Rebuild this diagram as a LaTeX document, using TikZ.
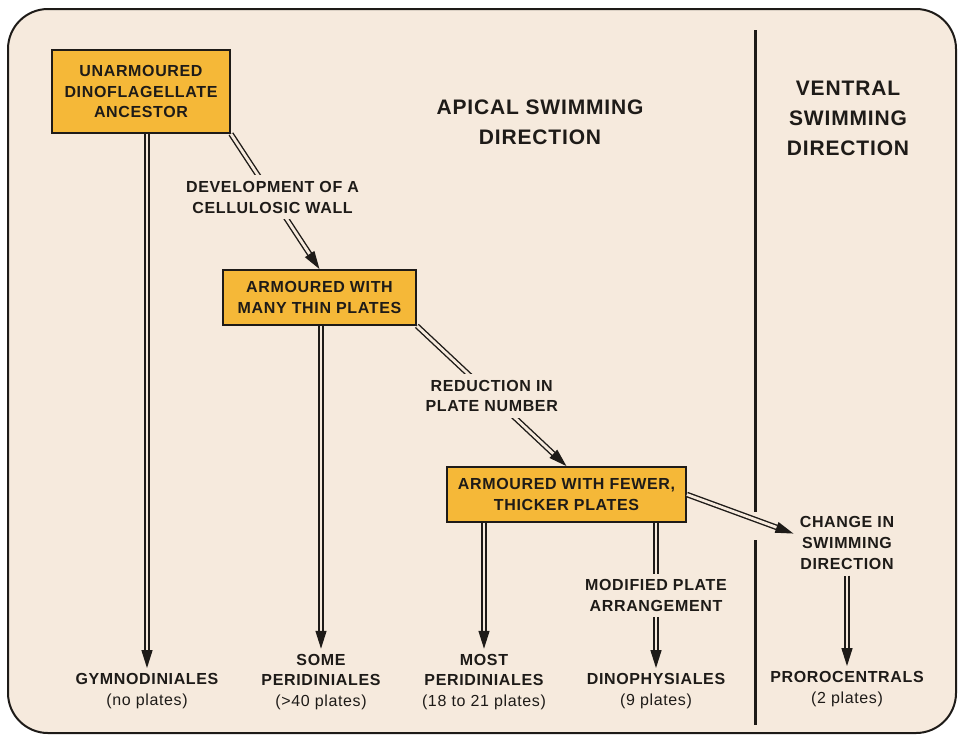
\documentclass[tikz,border=0pt]{standalone}
\usepackage{fontspec}
\setmainfont{Liberation Sans}[LetterSpace=4]
\usetikzlibrary{arrows.meta}

\definecolor{paper}{RGB}{246,234,221}
\definecolor{boxfill}{RGB}{245,184,56}
\definecolor{ink}{RGB}{30,27,24}

\begin{document}
\begin{tikzpicture}[x=0.5pt, y=-0.5pt,
    stage/.style={draw=ink, line width=0.9pt, fill=boxfill, text=ink, align=center,
        inner sep=0pt, font=\fontsize{8}{10.3}\selectfont\bfseries},
    note/.style={fill=paper, text=ink, align=center, inner sep=3pt,
        font=\fontsize{8}{10.3}\selectfont\bfseries},
    taxon/.style={text=ink, align=center, inner sep=2.5pt,
        font=\fontsize{8}{10.3}\selectfont\bfseries},
    heading/.style={text=ink, align=center, font=\fontsize{10.5}{15}\selectfont\bfseries},
    link/.style={draw=ink, line width=0.7pt, double=paper, double distance=1.4pt},
    arr/.style={link, -{Triangle[length=9pt, width=5.5pt]}}]

    \useasboundingbox (0,0) rectangle (958,735);

    % --- Frame and divider ---
    \draw[ink, line width=1pt, fill=paper, rounded corners=20pt] (8,9) rectangle (956,733);
    \draw[ink, line width=1.5pt] (755,30) -- (755,512);
    \draw[ink, line width=1.5pt] (755,540) -- (755,725);

    % --- Headings ---
    \node[heading] (apical) at (540,122) {APICAL SWIMMING\\DIRECTION};
    \node[heading] (ventral) at (848,118) {VENTRAL\\SWIMMING\\DIRECTION};

    % --- Stages ---
    \node[stage, minimum width=89pt, minimum height=41.5pt] (ances) at (141,91.5)
        {UNARMOURED\\DINOFLAGELLATE\\ANCESTOR};
    \node[stage, minimum width=96.5pt, minimum height=27.5pt] (thin) at (319.5,297.5)
        {ARMOURED WITH\\MANY THIN PLATES};
    \node[stage, minimum width=119.5pt, minimum height=27.5pt] (thick) at (566.5,494.5)
        {ARMOURED WITH FEWER,\\THICKER PLATES};
    \node[note] (change) at (847,543) {CHANGE IN\\SWIMMING\\DIRECTION};

    % --- Orders ---
    \node[taxon] (gym) at (147,691) {GYMNODINIALES\\{\mdseries (no plates)}};
    \node[taxon] (some) at (321,682) {SOME\\PERIDINIALES\\{\mdseries (>40 plates)}};
    \node[taxon] (most) at (484,682) {MOST\\PERIDINIALES\\{\mdseries (18 to 21 plates)}};
    \node[taxon] (dino) at (656,691) {DINOPHYSIALES\\{\mdseries (9 plates)}};
    \node[taxon] (proro) at (847,689) {PROROCENTRALS\\{\mdseries (2 plates)}};

    % --- Connectors ---
    \draw[arr] (ances.south east) -- node[note, pos=0.47] (dev)
        {DEVELOPMENT OF A\\CELLULOSIC WALL} (thin.north);
    \draw[arr] (thin.south east) -- node[note, pos=0.5] (reduce)
        {REDUCTION IN\\PLATE NUMBER} (thick.north);
    \draw[arr] (thick.east) -- (change.170);
    \draw[arr] (ances.south -| gym.north) -- (gym.north);
    \draw[arr] (thin.south -| some.north) -- (some.north);
    \draw[arr] (thick.south -| most.north) -- (most.north);
    \draw[arr] (thick.south -| dino.north) -- node[note, pos=0.5] (modif)
        {MODIFIED PLATE\\ARRANGEMENT} (dino.north);
    \draw[arr] (change.south) -- (proro.north);
\end{tikzpicture}
\end{document}
